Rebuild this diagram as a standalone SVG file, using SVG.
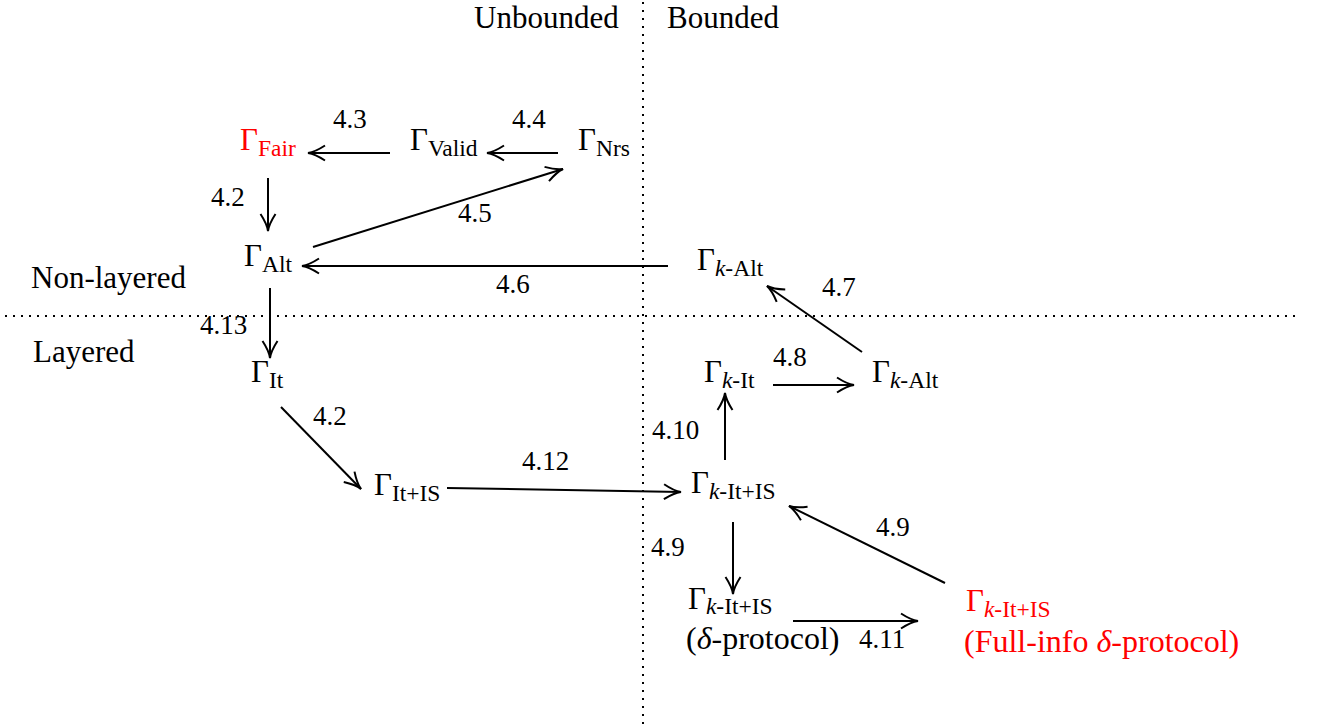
<svg xmlns="http://www.w3.org/2000/svg" width="1321" height="725" viewBox="0 0 1321 725">
<style>
text{font-family:"Liberation Serif","Times New Roman",serif;fill:#000}
.g{font-size:31px}
.p{font-size:32px}
.s{font-size:23.5px}
.lab{font-size:27px}
.red text,.red tspan{fill:#ff0000}
.e{stroke:#000;stroke-width:2;fill:none;marker-end:url(#ah)}
.dot{stroke:#000;stroke-width:2;stroke-dasharray:2 6;fill:none}
</style>
<defs>
<marker id="ah" viewBox="-18 -9 20 18" markerWidth="20" markerHeight="18" refX="0" refY="0" orient="auto" markerUnits="userSpaceOnUse">
<path d="M-17,-7.5 Q-7,-1 0,0 Q-7,1 -17,7.5" stroke="#000" stroke-width="2" fill="none"/>
</marker>
</defs>
<g id="guides">
<line class="dot" x1="643" y1="2" x2="643" y2="725"/>
<line class="dot" x1="5" y1="316" x2="1300" y2="316"/>
<text class="g" x="474" y="28">Unbounded</text>
<text class="g" x="667" y="28">Bounded</text>
<text class="g" x="31" y="288">Non-layered</text>
<text class="g" x="33" y="362">Layered</text>
</g>
<g id="connectors">
<line class="e" x1="390" y1="153" x2="308" y2="153"/>
<line class="e" x1="558" y1="153" x2="487" y2="153"/>
<line class="e" x1="268" y1="178" x2="268" y2="231"/>
<line class="e" x1="313" y1="247" x2="563" y2="169"/>
<line class="e" x1="668" y1="266" x2="302" y2="266"/>
<line class="e" x1="270" y1="288" x2="270" y2="358"/>
<line class="e" x1="862" y1="352" x2="767" y2="286"/>
<line class="e" x1="773" y1="385" x2="854" y2="385"/>
<line class="e" x1="281" y1="407" x2="361" y2="489"/>
<line class="e" x1="447" y1="488" x2="681" y2="492"/>
<line class="e" x1="725" y1="460" x2="725" y2="393"/>
<line class="e" x1="733" y1="522" x2="733" y2="594"/>
<line class="e" x1="945" y1="583" x2="789" y2="506"/>
<line class="e" x1="793" y1="621" x2="918" y2="621"/>
<text class="lab" x="333" y="128">4.3</text>
<text class="lab" x="512" y="128">4.4</text>
<text class="lab" x="211" y="206">4.2</text>
<text class="lab" x="458" y="222">4.5</text>
<text class="lab" x="496" y="293">4.6</text>
<text class="lab" x="200" y="334">4.13</text>
<text class="lab" x="822" y="296">4.7</text>
<text class="lab" x="773" y="366">4.8</text>
<text class="lab" x="313" y="425">4.2</text>
<text class="lab" x="522" y="470">4.12</text>
<text class="lab" x="652" y="439">4.10</text>
<text class="lab" x="651" y="556">4.9</text>
<text class="lab" x="876" y="536">4.9</text>
<text class="lab" x="859" y="648">4.11</text>
</g>
<g id="fair" class="red"><text class="g" x="240" y="150">Γ<tspan class="s" dy="6">Fair</tspan></text></g>
<g id="valid"><text class="g" x="410" y="150">Γ<tspan class="s" dy="6">Valid</tspan></text></g>
<g id="nrs"><text class="g" x="578" y="150">Γ<tspan class="s" dy="6">Nrs</tspan></text></g>
<g id="alt"><text class="g" x="244" y="266">Γ<tspan class="s" dy="6">Alt</tspan></text></g>
<g id="kalt1"><text class="g" x="697" y="270">Γ<tspan class="s" dy="6" font-style="italic">k</tspan><tspan class="s">-Alt</tspan></text></g>
<g id="it"><text class="g" x="251" y="382">Γ<tspan class="s" dy="6">It</tspan></text></g>
<g id="kit"><text class="g" x="704" y="382">Γ<tspan class="s" dy="6" font-style="italic">k</tspan><tspan class="s">-It</tspan></text></g>
<g id="kalt2"><text class="g" x="872" y="382">Γ<tspan class="s" dy="6" font-style="italic">k</tspan><tspan class="s">-Alt</tspan></text></g>
<g id="itis"><text class="g" x="374" y="495">Γ<tspan class="s" dy="6">It+IS</tspan></text></g>
<g id="kitis"><text class="g" x="691" y="493">Γ<tspan class="s" dy="6" font-style="italic">k</tspan><tspan class="s">-It+IS</tspan></text></g>
<g id="kitis-delta"><text class="g" x="688" y="609">Γ<tspan class="s" dy="5" font-style="italic">k</tspan><tspan class="s">-It+IS</tspan></text>
<text class="p" x="686" y="649">(<tspan font-style="italic">δ</tspan>-protocol)</text></g>
<g id="kitis-full" class="red"><text class="g" x="966" y="611">Γ<tspan class="s" dy="6" font-style="italic">k</tspan><tspan class="s">-It+IS</tspan></text>
<text class="p" x="964" y="652">(Full-info <tspan font-style="italic">δ</tspan>-protocol)</text></g>
</svg>
